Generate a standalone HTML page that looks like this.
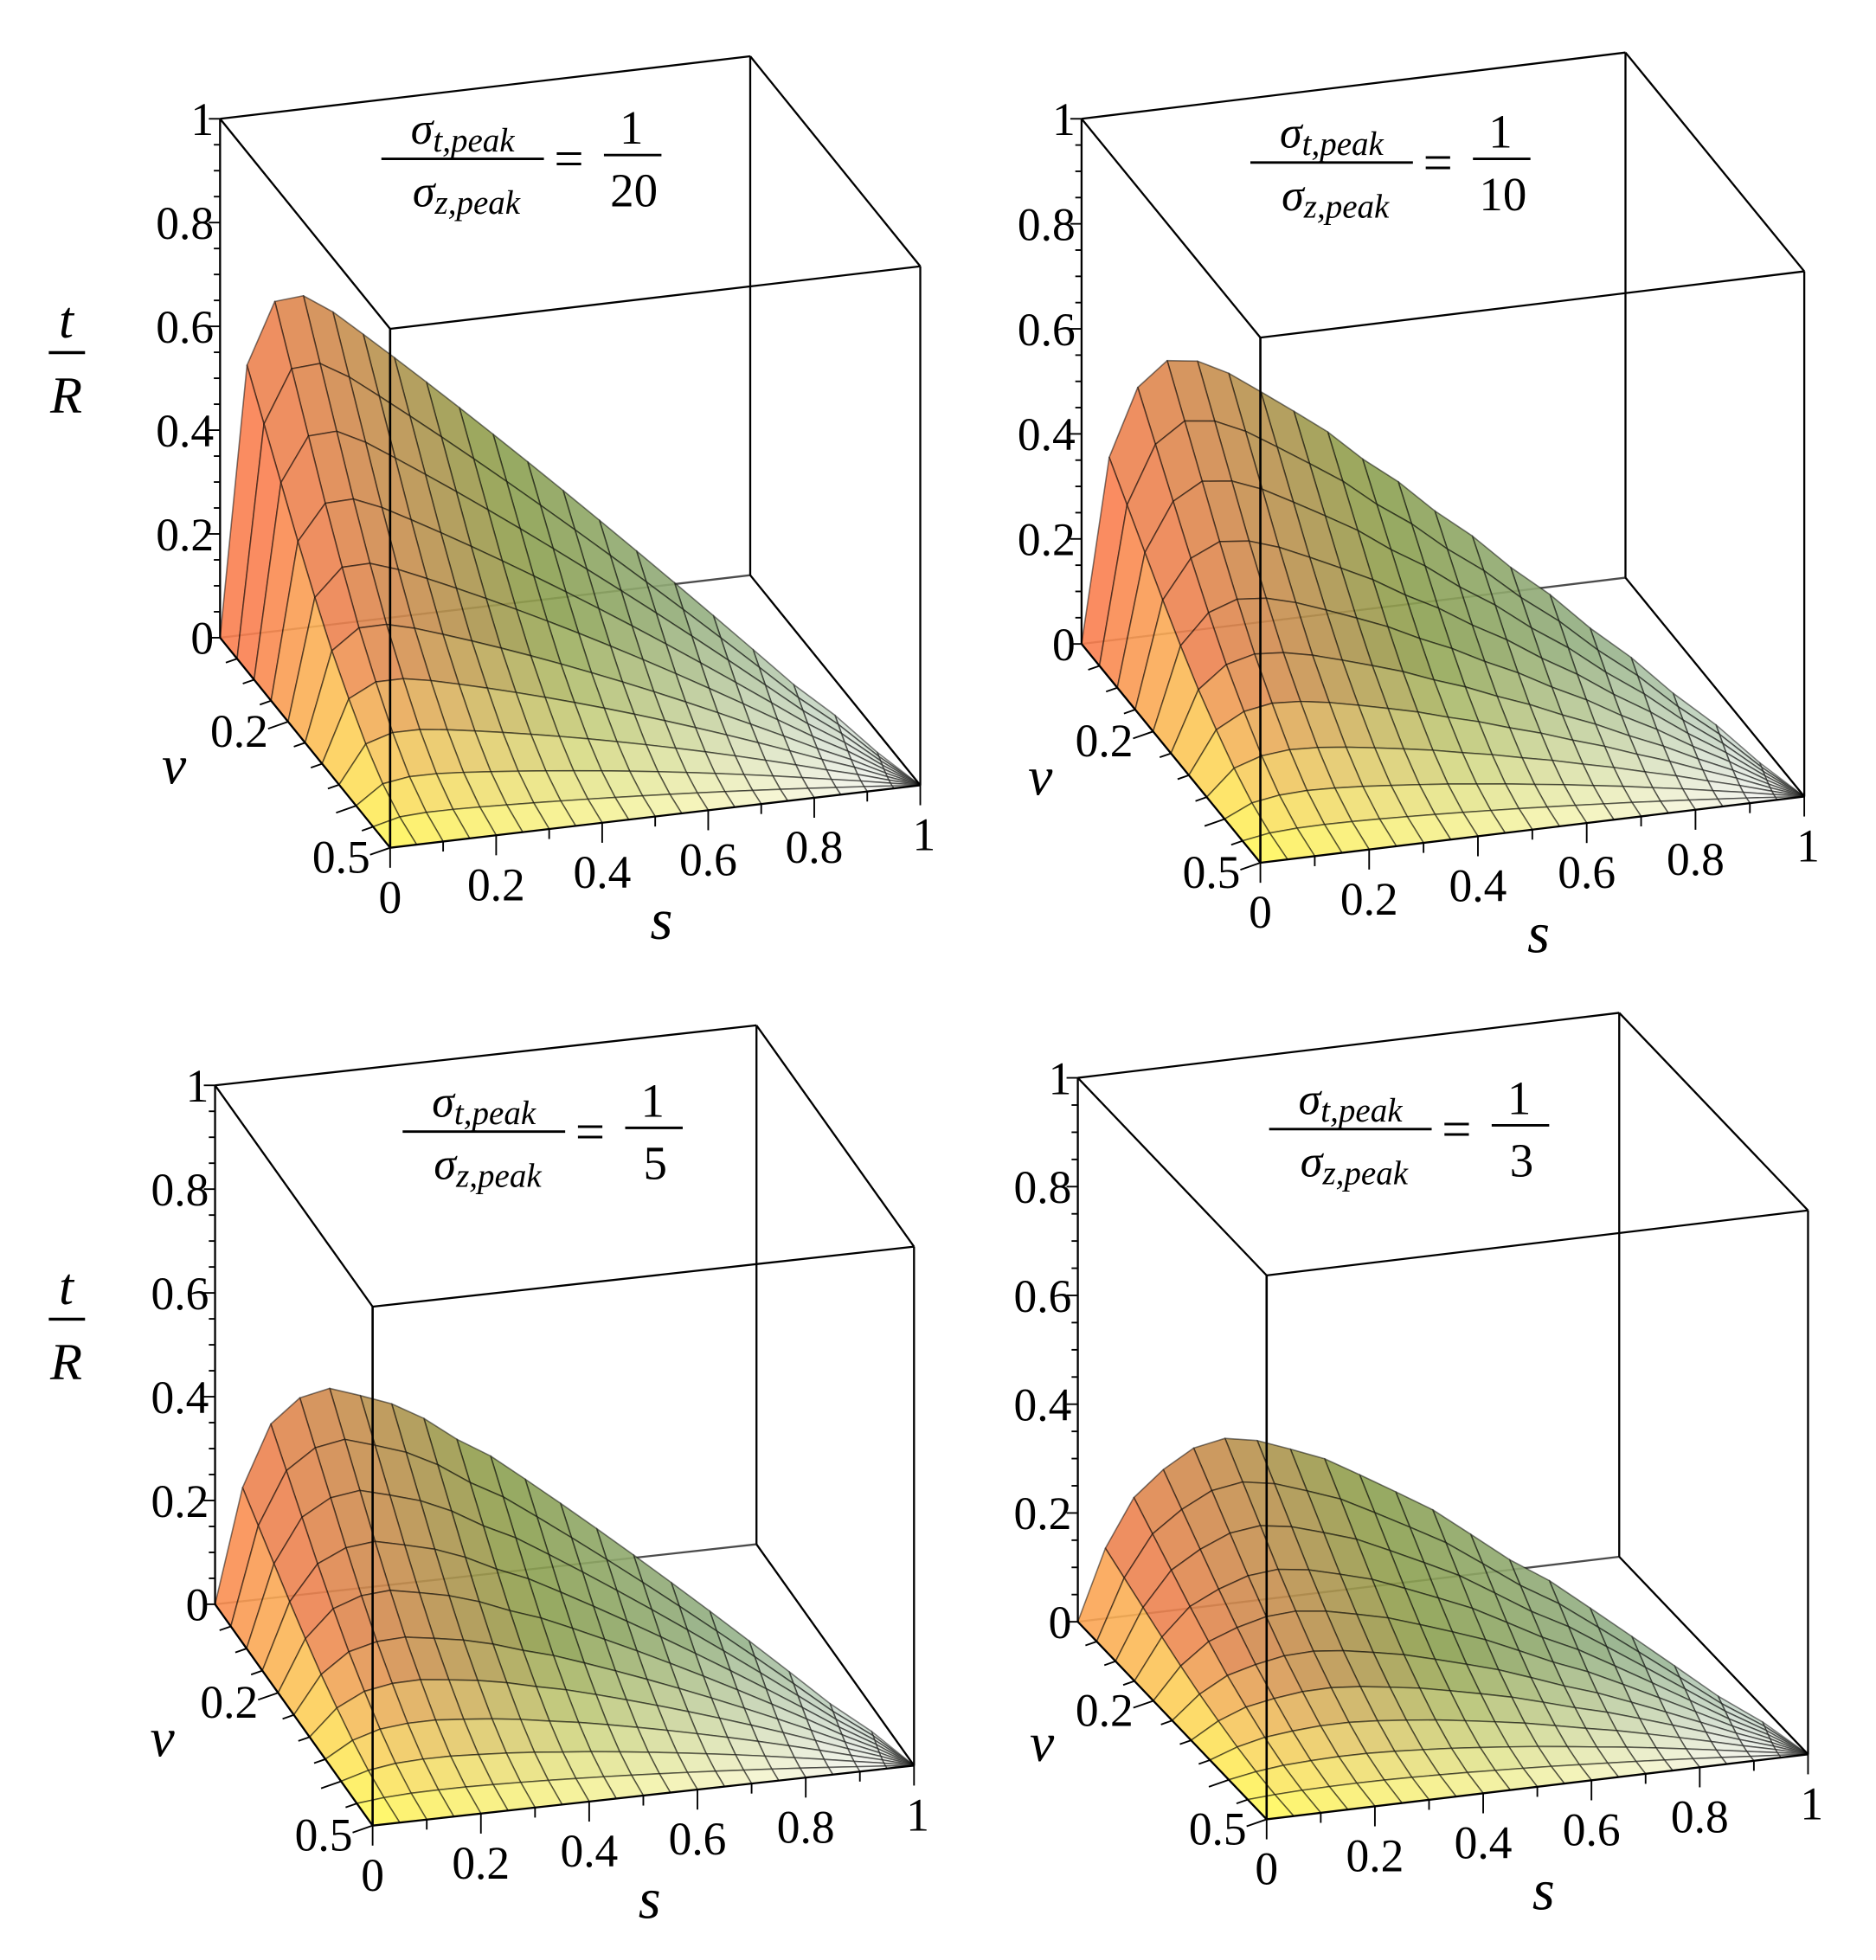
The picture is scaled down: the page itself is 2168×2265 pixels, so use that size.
<!DOCTYPE html>
<html><head><meta charset="utf-8">
<style>
html,body{margin:0;padding:0;background:#fff;}
svg{display:block;}
text{font-family:"Liberation Serif",serif;fill:#000;}
</style></head>
<body>
<svg id="fig" width="2168" height="2265" viewBox="0 0 1500.35 1567.5" xmlns="http://www.w3.org/2000/svg"></svg>
<script>
// ---- data ----
const sValues = [0,0.05,0.1,0.15,0.2,0.25,0.3,0.35,0.4,0.45,0.5,0.55,0.6,0.65,0.7,0.75,0.8,0.85,0.9,0.95,1];
const wValues = [0,0.1,0.2,0.3,0.4,0.5,0.6,0.7,0.8,0.9,1];
const profile20 = [0,0.52,0.64,0.65,0.62,0.58,0.54,0.50,0.46,0.42,0.38,0.34,0.30,0.26,0.22,0.18,0.14,0.10,0.07,0.03,0];
const profile10 = [0,0.35,0.48,0.53,0.53,0.51,0.48,0.45,0.42,0.38,0.35,0.31,0.28,0.24,0.21,0.17,0.14,0.10,0.07,0.03,0];
const profile5  = [0,0.22,0.34,0.39,0.41,0.40,0.39,0.37,0.34,0.32,0.29,0.26,0.23,0.20,0.17,0.14,0.11,0.08,0.05,0.03,0];
const profile3  = [0,0.13,0.22,0.27,0.31,0.33,0.33,0.32,0.31,0.29,0.27,0.25,0.22,0.19,0.17,0.14,0.11,0.08,0.05,0.03,0];
const wFactor = [1,0.86,0.72,0.58,0.45,0.33,0.23,0.14,0.07,0.025,0];
const ratioDenoms = ["20","10","5","3"];
const tTicks = [0,0.2,0.4,0.6,0.8,1];
const tTickLabels = ["0","0.2","0.4","0.6","0.8","1"];
const sTicks = [0,0.2,0.4,0.6,0.8,1];
const sTickLabels = ["0","0.2","0.4","0.6","0.8","1"];
const vTicks = [0.2,0.5];
const vTickLabels = ["0.2","0.5"];

// ---- geometry (layout) ----
const panels = [
 {O:[176,510],S:[424,-50],V:[272,336],T:[0,-415],prof:profile20,tr:true, ann:{x:305,y:127}},
 {O:[865,515],S:[435,-53],V:[286,350],T:[0,-420],prof:profile10,tr:false,ann:{x:1000,y:130}},
 {O:[172,1283],S:[433,-48],V:[252,354],T:[0,-415],prof:profile5,tr:true, ann:{x:322,y:905}},
 {O:[862,1297],S:[433,-52],V:[302,316],T:[0,-435],prof:profile3,tr:false,ann:{x:1015,y:903}}
];
const NS="http://www.w3.org/2000/svg";
const svg=document.getElementById('fig');
function el(tag,attrs,parent){const e=document.createElementNS(NS,tag);for(const k in attrs)e.setAttribute(k,attrs[k]);(parent||svg).appendChild(e);return e;}
function lerp(a,b,f){return a+(b-a)*f;}
function mix(c1,c2,f){return [lerp(c1[0],c2[0],f),lerp(c1[1],c2[1],f),lerp(c1[2],c2[2],f)];}

panels.forEach((p,pi)=>{
  const g=el('g',{});
  
  
  const P=(s,v,t)=>[p.O[0]+s*p.S[0]+v*p.V[0]+t*p.T[0], p.O[1]+s*p.S[1]+v*p.V[1]+t*p.T[1]];
  const line=(a,b,sw,op,name)=>{const l=el('line',{x1:a[0],y1:a[1],x2:b[0],y2:b[1],stroke:'#000','stroke-width':sw,'stroke-opacity':op},g);
    
    return l;};
  line(P(0,0,0),P(1,0,0),1.6,0.7,'box-edge');
  line(P(1,0,0),P(1,0.5,0),1.6,1,'box-edge');
  line(P(1,0,0),P(1,0,1),1.6,1,'box-edge');
  line(P(0,0,1),P(1,0,1),1.6,1,'box-edge');
  line(P(1,0,1),P(1,0.5,1),1.6,1,'box-edge');
  line(P(0,0,1),P(0,0.5,1),1.6,1,'box-edge');
  line(P(0,0.5,1),P(1,0.5,1),1.6,1,'box-edge');
  const sg=el('g',{},g);
  
  
  const pk=Math.max(...p.prof);
  const pt=(i,j)=>{const s=sValues[i];const vr=0.5*s*s;const w=wValues[j];
    const v=vr+w*(0.5-vr);return P(s,v,p.prof[i]*wFactor[j]);};
  for(let j=0;j<wValues.length-1;j++){
    for(let i=sValues.length-2;i>=0;i--){
      const pts=[pt(i,j),pt(i+1,j),pt(i+1,j+1),pt(i,j+1)];
      const sm=(sValues[i]+sValues[i+1])/2;
      const tm=(p.prof[i]*wFactor[j]+p.prof[i+1]*wFactor[j]+p.prof[i+1]*wFactor[j+1]+p.prof[i]*wFactor[j+1])/4;
      let hi=sm<0.45?mix([255,125,80],[140,160,78],sm/0.45):mix([140,160,78],[150,185,175],(sm-0.45)/0.55);
      let lo=mix([255,250,90],[246,246,240],Math.min(1,sm*1.1));
      const r=Math.min(1,tm/(pk*0.3));
      const c=mix(lo,hi,Math.pow(r,0.75));
      const poly=el('polygon',{points:pts.map(q=>q.join(',')).join(' '),fill:`rgb(${c.map(Math.round).join(',')})`,'fill-opacity':0.9,stroke:'rgba(0,0,0,0.5)','stroke-width':1.1,'stroke-linejoin':'round'},sg);
      
      
    }
  }
  line(P(0,0,0),P(0,0,1),1.6,1,'t-axis');
  line(P(0,0,0),P(0,0.5,0),1.6,1,'v-axis');
  line(P(0,0.5,0),P(1,0.5,0),1.6,1,'s-axis');
  line(P(0,0.5,0),P(0,0.5,1),1.8,1,'box-edge-front');
  line(P(1,0.5,0),P(1,0.5,1),1.6,1,'box-edge');
  for(let k=0;k<=20;k++){const t=k/20;const a=P(0,0,t);const len=(k%4===0)?9:5;
    line([a[0]-len,a[1]],a,1.3,1,'t-tick');}
  tTicks.forEach((t,k)=>{const a=P(0,0,t);const tx=el('text',{x:a[0]-5,y:a[1]+13,'font-size':37,'text-anchor':'end'},g);tx.textContent=tTickLabels[k];
    
    });
  for(let k=0;k<=10;k++){const s=k/10;const a=P(s,0.5,0);const len=(k%2===0)?16:8;
    line(a,[a[0],a[1]+len],1.3,1,'s-tick');}
  sTicks.forEach((s,k)=>{const a=P(s,0.5,0);const tx=el('text',{x:a[0]+(k===5?3:0),y:a[1]+52,'font-size':37,'text-anchor':'middle'},g);tx.textContent=sTickLabels[k];
    
    });
  for(let k=1;k<=10;k++){const v=k/20;const a=P(0,v,0);const len=(k%4===0||k===10)?16:9;
    line([a[0]-len,a[1]+len*0.35],a,1.3,1,'v-tick');}
  vTicks.forEach((v,k)=>{const a=P(0,v,0);const tx=el('text',{x:a[0]-16,y:a[1]+20,'font-size':37,'text-anchor':'end'},g);tx.textContent=vTickLabels[k];
    
    });
  const vp=P(0,0.27,0);
  const vt=el('text',{x:vp[0]-120,y:vp[1]+26,'font-size':44,'font-style':'italic'},g);vt.textContent='ν';
  
  const sp=P(0.5,0.5,0);
  const st=el('text',{x:sp[0]+5,y:sp[1]+98,'font-size':46,'font-style':'italic','text-anchor':'middle'},g);st.textContent='s';
  
  if(p.tr){
    const y0=p.O[1]-228;
    const t1=el('text',{x:53,y:y0-12,'font-size':42,'font-style':'italic','text-anchor':'middle'},g);t1.textContent='t';
    
    const br=el('line',{x1:39,y1:y0,x2:68,y2:y0,stroke:'#000','stroke-width':2.4},g);
    
    const t2=el('text',{x:53,y:y0+48,'font-size':42,'font-style':'italic','text-anchor':'middle'},g);t2.textContent='R';
    
  }
  const A=p.ann;
  const ag=el('g',{},g);
  
  
  const num=el('text',{x:A.x+65,y:A.y-12,'font-size':36,'text-anchor':'middle','font-style':'italic'},ag);
  num.innerHTML='σ<tspan font-size="27" dy="6">t,peak</tspan>';
  el('line',{x1:A.x,y1:A.y,x2:A.x+130,y2:A.y,stroke:'#000','stroke-width':2},ag);
  const den=el('text',{x:A.x+68,y:A.y+38,'font-size':36,'text-anchor':'middle','font-style':'italic'},ag);
  den.innerHTML='σ<tspan font-size="27" dy="6">z,peak</tspan>';
  const eq=el('text',{x:A.x+150,y:A.y+14,'font-size':42,'text-anchor':'middle'},ag);eq.textContent='=';
  const n1=el('text',{x:A.x+200,y:A.y-12,'font-size':38,'text-anchor':'middle','font-family':'Liberation Sans'},ag);n1.textContent='1';
  el('line',{x1:A.x+178,y1:A.y-3,x2:A.x+224,y2:A.y-3,stroke:'#000','stroke-width':2},ag);
  const d1=el('text',{x:A.x+202,y:A.y+38,'font-size':38,'text-anchor':'middle','font-family':'Liberation Sans'},ag);d1.textContent=ratioDenoms[pi];
});
</script>
</body></html>
